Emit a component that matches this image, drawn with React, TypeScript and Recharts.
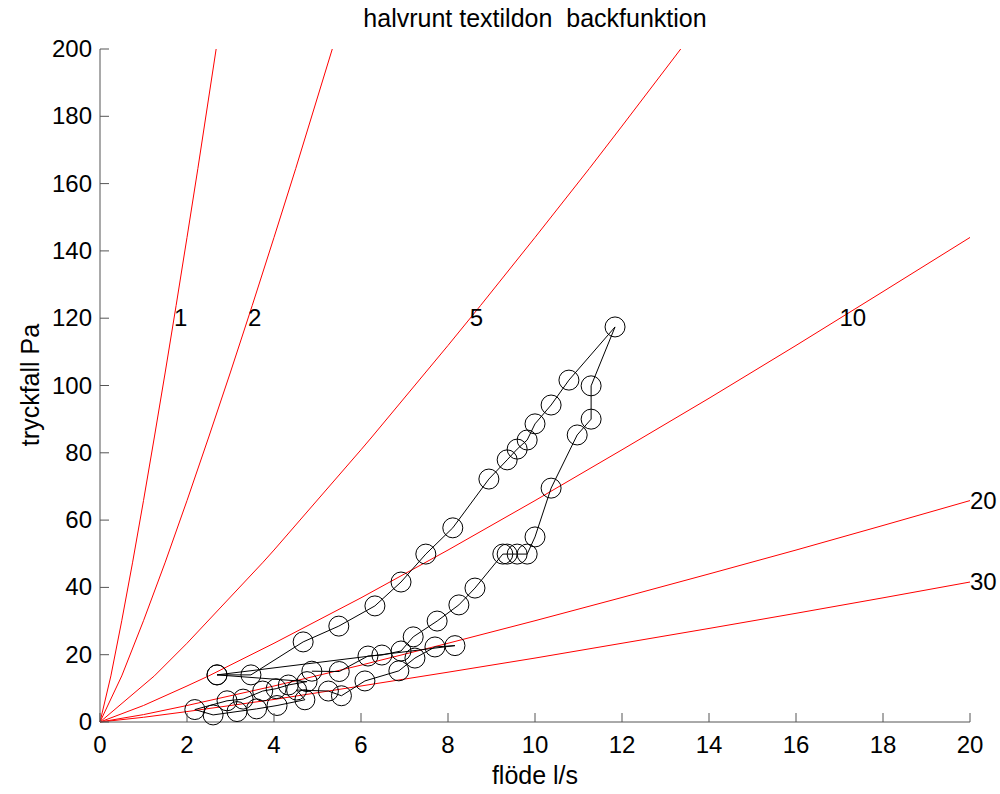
import React from "react";
import { ComposedChart, Line, Scatter, XAxis, YAxis } from "recharts";

const FONT = '"Liberation Sans", Arial, Helvetica, sans-serif';
const AXIS = "#555555";
const RED = "#ff0000";

// tick labels
const xTicks = [0, 2, 4, 6, 8, 10, 12, 14, 16, 18, 20];
const yTicks = [0, 20, 40, 60, 80, 100, 120, 140, 160, 180, 200];

// red reference curves (flow l/s vs pressure Pa), labelled 1..30
const flowK1 = [0, 0.25, 0.5, 0.75, 1, 1.25, 1.5, 1.75, 2, 2.25, 2.67];
const dpK1 = [0, 13.7, 30.1, 47.5, 65.8, 84.7, 104.0, 123.8, 144.0, 164.5, 200];
const flowK2 = [0, 0.5, 1, 1.5, 2, 2.5, 3, 3.5, 4, 4.5, 5.34];
const dpK2 = [0, 13.7, 30.1, 47.5, 65.8, 84.7, 104.0, 123.8, 144.0, 164.5, 200];
const flowK5 = [0, 1.25, 2, 3.75, 4, 6, 6.25, 8, 8.75, 10, 11.25, 12, 13.35];
const dpK5 = [0, 13.7, 23.4, 47.5, 51.1, 80.9, 84.7, 111.9, 123.8, 144.0, 164.5, 177.1, 200];
const flowK10 = [0, 1, 2, 2.5, 4, 6, 8, 10, 12, 14, 16, 18, 20];
const dpK10 = [0, 4.9, 10.7, 13.7, 23.4, 36.9, 51.1, 65.8, 80.9, 96.2, 111.9, 127.9, 144.0];
const flowK20 = [0, 1, 2, 4, 6, 8, 10, 12, 14, 16, 18, 20];
const dpK20 = [0, 2.2, 4.9, 10.7, 16.9, 23.4, 30.1, 37.0, 44.0, 51.1, 58.4, 65.8];
const flowK30 = [0, 1, 2, 4, 6, 8, 10, 12, 14, 16, 18, 20];
const dpK30 = [0, 1.4, 3.1, 6.7, 10.7, 14.8, 19.0, 23.4, 27.8, 32.3, 36.9, 41.6];

// curve labels
const labelText = ["1", "2", "5", "10", "20", "30"];
const labelX = [1.7, 3.4, 8.5, 17.0, 20.0, 20.0];
const labelY = [120, 120, 120, 120, 65.8, 41.6];

// measured points, in recorded order
const measFlow = [
  2.69, 4.76, 4.33, 4.05, 3.74, 3.29, 2.92, 2.18, 2.6, 3.15, 3.6, 4.07, 4.71, 4.52,
  5.25, 5.55, 6.09, 6.87, 7.24, 7.7, 8.16, 2.69, 3.47, 4.67, 5.49, 6.32, 6.92, 7.49,
  8.11, 8.94, 9.36, 9.59, 9.82, 10.0, 10.37, 10.78, 11.84, 11.29, 11.29, 10.97,
  10.37, 10.0, 9.82, 9.59, 9.36, 9.26, 8.62, 8.25, 7.75, 7.2, 6.92, 6.48, 6.16,
  5.5, 4.87,
];
const measDp = [
  14.0, 12.0, 11.0, 9.9, 9.2, 6.8, 6.3, 3.7, 2.1, 3.1, 3.9, 4.9, 6.6, 9.5,
  9.2, 7.8, 12.2, 15.2, 19.0, 22.3, 22.7, 14.0, 14.0, 23.8, 28.5, 34.5, 41.6, 49.9,
  57.7, 72.2, 77.9, 81.1, 83.8, 88.6, 94.2, 101.6, 117.4, 99.9, 90.0, 85.3,
  69.5, 55.0, 49.9, 49.9, 49.9, 49.9, 39.8, 34.8, 30.0, 25.3, 21.1, 19.9, 19.6,
  15.0, 15.1,
];

const zip = (xs: number[], ys: number[]) => xs.map((x, i) => ({ x, y: ys[i] }));

const curves = [
  zip(flowK1, dpK1),
  zip(flowK2, dpK2),
  zip(flowK5, dpK5),
  zip(flowK10, dpK10),
  zip(flowK20, dpK20),
  zip(flowK30, dpK30),
];
const labels = labelText.map((t, i) => ({ x: labelX[i], y: labelY[i], t }));
const measured = zip(measFlow, measDp);

const XTick = ({ x, y, payload }: any) => (
  <g>
    <line x1={x} x2={x} y1={y} y2={y - 9} stroke={AXIS} />
    <text x={x} y={y + 31} textAnchor="middle" fontSize={24} fill="#000" fontFamily={FONT}>
      {payload.value}
    </text>
  </g>
);

const YTick = ({ x, y, payload }: any) => (
  <g>
    <line x1={x} x2={x + 9} y1={y} y2={y} stroke={AXIS} />
    <text x={x - 8} y={y + 8} textAnchor="end" fontSize={24} fill="#000" fontFamily={FONT}>
      {payload.value}
    </text>
  </g>
);

const LabelShape = ({ cx, cy, payload }: any) => (
  <text x={cx} y={cy + 8} fontSize={24} fill="#000" fontFamily={FONT}>
    {payload.t}
  </text>
);

export default function App() {
  return (
    <div
      style={{
        position: "absolute",
        left: 0,
        top: 0,
        width: 1000,
        height: 794,
        background: "#fff",
        fontFamily: FONT,
      }}
    >
      <div
        style={{
          position: "absolute",
          left: 100,
          width: 870,
          top: 5,
          textAlign: "center",
          fontSize: 25,
          lineHeight: "26px",
          whiteSpace: "pre",
        }}
      >
        halvrunt textildon  backfunktion
      </div>
      <div
        style={{
          position: "absolute",
          left: 100,
          width: 870,
          top: 762,
          textAlign: "center",
          fontSize: 25,
          lineHeight: "26px",
        }}
      >
        flöde l/s
      </div>
      <div
        style={{
          position: "absolute",
          left: 30 - 100,
          top: 385 - 13,
          width: 200,
          textAlign: "center",
          fontSize: 25,
          lineHeight: "26px",
          transform: "rotate(-90deg)",
        }}
      >
        tryckfall Pa
      </div>
      <ComposedChart
        width={1000}
        height={794}
        margin={{ top: 49, right: 30, left: 0, bottom: 0 }}
        style={{ overflow: "visible" }}
      >
        <XAxis
          type="number"
          dataKey="x"
          domain={[0, 20]}
          ticks={xTicks}
          height={72}
          axisLine={{ stroke: AXIS }}
          tickLine={false}
          tickSize={0}
          tickMargin={0}
          tick={<XTick />}
        />
        <YAxis
          type="number"
          dataKey="y"
          domain={[0, 200]}
          ticks={yTicks}
          width={100}
          axisLine={{ stroke: AXIS }}
          tickLine={false}
          tickSize={0}
          tickMargin={0}
          tick={<YTick />}
        />
        {curves.map((d, i) => (
          <Line
            key={i}
            data={d}
            dataKey="y"
            type="linear"
            stroke={RED}
            strokeWidth={1}
            dot={false}
            activeDot={false}
            isAnimationActive={false}
          />
        ))}
        <Line
          data={measured}
          dataKey="y"
          type="linear"
          stroke="#000"
          strokeWidth={1}
          dot={{ r: 10, fill: "none", stroke: "#000", strokeWidth: 1 }}
          activeDot={false}
          isAnimationActive={false}
        />
        <Scatter data={labels} dataKey="y" shape={<LabelShape />} isAnimationActive={false} />
      </ComposedChart>
    </div>
  );
}
